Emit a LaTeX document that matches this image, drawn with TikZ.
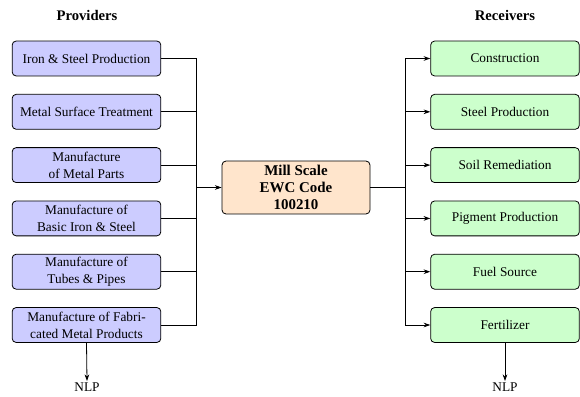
\documentclass[tikz,border=0pt]{standalone}
\usepackage{fontspec}
\setmainfont{Liberation Serif}
\usetikzlibrary{arrows.meta}
\tikzset{
  x=0.75pt, y=-0.75pt,
  box/.style={draw, rounded corners=3pt, line width=0.6pt, minimum width=111.5pt, minimum height=26.2pt,
    inner sep=1pt, align=center, font=\fontsize{10}{12.6}\selectfont},
  prov/.style={box, fill=blue!20},
  recv/.style={box, fill=green!20},
  mill/.style={draw, rounded corners=3pt, line width=0.6pt, fill=orange!20, minimum width=111pt, minimum height=39.7pt,
    inner sep=1pt, align=center, font=\fontsize{11.2}{13}\selectfont\bfseries},
  title/.style={font=\fontsize{11}{13}\selectfont\bfseries},
  conn/.style={line width=0.6pt},
  arr/.style={conn, -{Stealth[length=5pt,width=3.5pt]}},
  lbl/.style={font=\fontsize{10}{12}\selectfont, inner sep=1pt}
}
\begin{document}
\begin{tikzpicture}
\useasboundingbox (0,0) rectangle (580,396);
\node[title] (tp) at (87,15) {Providers};
\node[title] (tr) at (505,15) {Receivers};

\node[prov] (L1) at (86.5,58.5) {Iron \& Steel Production};
\node[prov] (L2) at (86.5,111.8) {Metal Surface Treatment};
\node[prov] (L3) at (86.5,165.1) {Manufacture\\of Metal Parts};
\node[prov] (L4) at (86.5,218.4) {Manufacture of\\Basic Iron \& Steel};
\node[prov] (L5) at (86.5,271.7) {Manufacture of\\Tubes \& Pipes};
\node[prov] (L6) at (86.5,325) {Manufacture of Fabri-\\cated Metal Products};

\node[recv] (R1) at (505,58.5) {Construction};
\node[recv] (R2) at (505,111.8) {Steel Production};
\node[recv] (R3) at (505,165.1) {Soil Remediation};
\node[recv] (R4) at (505,218.4) {Pigment Production};
\node[recv] (R5) at (505,271.7) {Fuel Source};
\node[recv] (R6) at (505,325) {Fertilizer};

\node[mill] (M) at (296,187.5) {Mill Scale\\EWC Code\\100210};

\coordinate (BL) at (196,187.5);
\coordinate (BR) at (405,187.5);

\foreach \i in {1,...,6} {
  \draw[conn] (L\i.east) -| (BL);
  \draw[arr] (BR) |- (R\i.west);
}
\draw[arr] (BL) -- (M.west);
\draw[conn] (M.east) -- (BR);

\node[lbl] (N1) at (87,387) {NLP};
\node[lbl] (N2) at (505,387) {NLP};
\draw[arr] (L6.south) -- (N1.north);
\draw[arr] (R6.south) -- (N2.north);
\end{tikzpicture}
\end{document}
